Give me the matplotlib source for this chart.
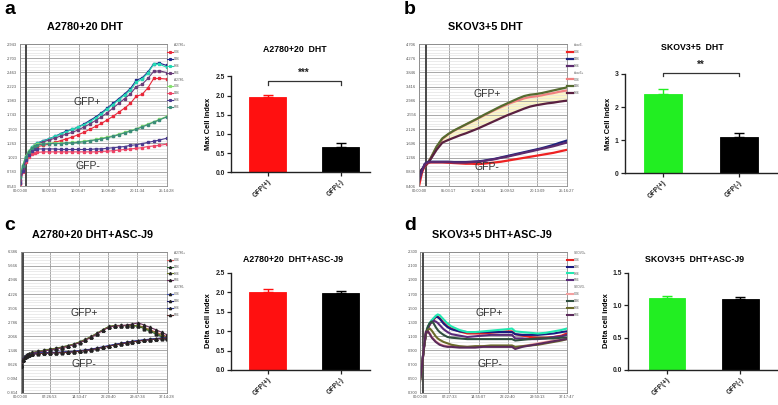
import numpy as np
import matplotlib
matplotlib.use('Agg')
import matplotlib.pyplot as plt
from matplotlib.lines import Line2D
from matplotlib.ticker import AutoMinorLocator

plt.rcParams['font.family'] = ['Liberation Sans', 'DejaVu Sans']

# ---------------- data ----------------
# panel a : A2780 + 20 DHT (cell index vs hours)
a_t = [0, 0.5, 1, 1.5, 2, 2.5, 3, 4, 5, 6, 7, 8, 9, 10, 11, 12, 13, 14, 15, 16,
       17, 18, 19, 20, 21, 22, 23, 24, 25.24]
a_plus = [
    [0.60, 0.80, 0.98, 1.08, 1.15, 1.19, 1.21, 1.23, 1.25, 1.28, 1.31, 1.34, 1.37, 1.41, 1.45, 1.50, 1.55, 1.60, 1.66, 1.72, 1.79, 1.86, 1.94, 2.06, 2.09, 2.20, 2.36, 2.36, 2.35],
    [0.65, 0.85, 1.02, 1.12, 1.19, 1.24, 1.27, 1.31, 1.34, 1.38, 1.43, 1.47, 1.50, 1.54, 1.59, 1.65, 1.71, 1.78, 1.86, 1.94, 2.02, 2.10, 2.19, 2.33, 2.37, 2.47, 2.61, 2.62, 2.58],
    [0.70, 0.88, 1.04, 1.13, 1.20, 1.24, 1.27, 1.30, 1.34, 1.38, 1.42, 1.46, 1.50, 1.54, 1.58, 1.63, 1.69, 1.76, 1.84, 1.92, 2.00, 2.08, 2.16, 2.30, 2.35, 2.45, 2.60, 2.60, 2.55],
    [0.62, 0.82, 1.00, 1.10, 1.17, 1.22, 1.25, 1.29, 1.32, 1.35, 1.39, 1.42, 1.45, 1.49, 1.54, 1.59, 1.65, 1.71, 1.78, 1.86, 1.94, 2.02, 2.10, 2.22, 2.26, 2.36, 2.48, 2.49, 2.46],
]
a_minus = [
    [0.72, 0.90, 1.05, 1.13, 1.19, 1.23, 1.25, 1.26, 1.27, 1.27, 1.27, 1.27, 1.28, 1.29, 1.30, 1.31, 1.33, 1.35, 1.37, 1.39, 1.42, 1.45, 1.48, 1.51, 1.55, 1.59, 1.63, 1.67, 1.72],
    [0.58, 0.78, 0.95, 1.03, 1.08, 1.10, 1.11, 1.12, 1.12, 1.12, 1.12, 1.12, 1.12, 1.12, 1.12, 1.12, 1.12, 1.13, 1.13, 1.14, 1.15, 1.16, 1.17, 1.18, 1.19, 1.21, 1.22, 1.23, 1.25],
    [0.60, 0.80, 0.98, 1.07, 1.13, 1.16, 1.17, 1.17, 1.17, 1.17, 1.16, 1.16, 1.16, 1.16, 1.16, 1.16, 1.17, 1.17, 1.18, 1.19, 1.20, 1.21, 1.23, 1.24, 1.26, 1.28, 1.30, 1.32, 1.35],
    [0.70, 0.88, 1.04, 1.12, 1.18, 1.22, 1.24, 1.25, 1.26, 1.26, 1.26, 1.27, 1.27, 1.28, 1.29, 1.31, 1.32, 1.34, 1.36, 1.38, 1.41, 1.44, 1.47, 1.50, 1.54, 1.58, 1.62, 1.66, 1.71],
]
a_yticks = ['0.543', '0.783', '1.023', '1.263', '1.503', '1.743', '1.983', '2.223', '2.463', '2.703', '2.943']
a_xticks = ['00:00:00', '05:02:53', '10:05:47', '15:08:40', '20:11:34', '25:14:28']

# panel b : SKOV3 + 5 DHT
b_t = [0, 0.5, 1, 1.5, 2, 3, 4, 5, 6, 7, 8, 9, 10, 11, 12, 13, 14, 15, 16, 17,
       18, 19, 20, 21, 22, 23, 24, 25.27]
b_minus = [
    [0.40, 0.80, 1.05, 1.10, 1.12, 1.12, 1.12, 1.11, 1.10, 1.09, 1.08, 1.08, 1.07, 1.08, 1.10, 1.12, 1.14, 1.17, 1.20, 1.23, 1.26, 1.29, 1.32, 1.35, 1.38, 1.41, 1.45, 1.50],
    [0.60, 0.88, 1.08, 1.13, 1.14, 1.14, 1.14, 1.14, 1.13, 1.13, 1.13, 1.14, 1.15, 1.17, 1.20, 1.23, 1.27, 1.31, 1.35, 1.39, 1.43, 1.47, 1.51, 1.55, 1.60, 1.65, 1.71, 1.78],
    [0.55, 0.86, 1.07, 1.12, 1.13, 1.13, 1.13, 1.13, 1.12, 1.12, 1.12, 1.13, 1.14, 1.16, 1.19, 1.22, 1.26, 1.29, 1.33, 1.37, 1.41, 1.45, 1.49, 1.53, 1.57, 1.61, 1.66, 1.72],
]
b_plus = [
    [0.70, 0.88, 0.99, 1.10, 1.25, 1.58, 1.83, 1.97, 2.08, 2.17, 2.26, 2.35, 2.44, 2.53, 2.62, 2.71, 2.79, 2.87, 2.94, 3.00, 3.06, 3.10, 3.12, 3.15, 3.19, 3.22, 3.26, 3.30],
    [0.75, 0.90, 1.00, 1.10, 1.25, 1.60, 1.85, 1.98, 2.09, 2.18, 2.27, 2.36, 2.45, 2.55, 2.64, 2.73, 2.82, 2.90, 2.98, 3.06, 3.13, 3.17, 3.19, 3.22, 3.26, 3.30, 3.34, 3.39],
    [0.80, 0.92, 1.00, 1.10, 1.22, 1.50, 1.72, 1.80, 1.87, 1.94, 2.00, 2.07, 2.14, 2.22, 2.30, 2.38, 2.46, 2.54, 2.61, 2.68, 2.75, 2.81, 2.85, 2.88, 2.91, 2.93, 2.96, 2.99],
]
b_yticks = ['0.406', '0.836', '1.266', '1.696', '2.126', '2.556', '2.986', '3.416', '3.846', '4.276', '4.706']
b_xticks = ['00:00:00', '05:03:17', '10:06:34', '15:09:52', '20:13:09', '25:16:27']

# panel c : A2780 + 20 DHT + ASC-J9
c_t = [0, 0.5, 1, 1.5, 2, 3, 4.5, 6, 7.5, 9, 10.5, 12, 13.5, 15, 16.5, 18, 19.5,
       21, 22.5, 24, 25.5, 27, 28.5, 30, 31.5, 33, 34.5, 36, 37.24]
c_plus = [
    [0.55, 0.85, 1.02, 1.10, 1.16, 1.22, 1.28, 1.33, 1.38, 1.43, 1.49, 1.56, 1.64, 1.75, 1.88, 2.03, 2.20, 2.38, 2.54, 2.60, 2.61, 2.61, 2.61, 2.62, 2.52, 2.40, 2.28, 2.16, 2.06],
    [0.58, 0.88, 1.04, 1.12, 1.18, 1.24, 1.30, 1.36, 1.41, 1.46, 1.52, 1.59, 1.67, 1.78, 1.91, 2.06, 2.23, 2.41, 2.57, 2.62, 2.62, 2.61, 2.60, 2.58, 2.46, 2.32, 2.18, 2.04, 1.95],
    [0.56, 0.86, 1.03, 1.11, 1.17, 1.23, 1.29, 1.35, 1.40, 1.45, 1.51, 1.58, 1.66, 1.77, 1.90, 2.05, 2.22, 2.40, 2.56, 2.61, 2.62, 2.62, 2.62, 2.61, 2.50, 2.37, 2.24, 2.10, 2.00],
    [0.54, 0.84, 1.01, 1.09, 1.15, 1.21, 1.27, 1.32, 1.37, 1.42, 1.48, 1.55, 1.63, 1.74, 1.87, 2.02, 2.19, 2.37, 2.53, 2.59, 2.61, 2.64, 2.69, 2.75, 2.64, 2.52, 2.40, 2.27, 2.15],
]
c_minus = [
    [0.60, 0.88, 1.02, 1.09, 1.13, 1.17, 1.20, 1.22, 1.23, 1.24, 1.25, 1.27, 1.29, 1.32, 1.36, 1.40, 1.46, 1.52, 1.58, 1.64, 1.70, 1.75, 1.80, 1.84, 1.88, 1.91, 1.94, 1.97, 1.99],
    [0.58, 0.86, 1.01, 1.08, 1.12, 1.16, 1.19, 1.21, 1.22, 1.23, 1.24, 1.26, 1.28, 1.31, 1.35, 1.39, 1.45, 1.51, 1.57, 1.63, 1.69, 1.74, 1.79, 1.83, 1.87, 1.90, 1.93, 1.96, 1.98],
    [0.62, 0.89, 1.03, 1.10, 1.14, 1.18, 1.21, 1.23, 1.24, 1.25, 1.26, 1.28, 1.30, 1.33, 1.37, 1.41, 1.47, 1.53, 1.59, 1.65, 1.71, 1.76, 1.81, 1.85, 1.89, 1.92, 1.95, 1.98, 2.00],
    [0.57, 0.85, 1.00, 1.07, 1.11, 1.15, 1.18, 1.20, 1.21, 1.22, 1.23, 1.25, 1.27, 1.30, 1.34, 1.38, 1.44, 1.50, 1.56, 1.62, 1.68, 1.73, 1.78, 1.82, 1.86, 1.89, 1.92, 1.95, 1.97],
]
c_yticks = ['-0.814', '-0.094', '0.626', '1.346', '2.066', '2.786', '3.506', '4.226', '4.946', '5.666', '6.386']
c_xticks = ['00:00:00', '07:26:53', '14:53:47', '22:20:40', '29:47:34', '37:14:28']

# panel d : SKOV3 + 5 DHT + ASC-J9
d_t = [0, 0.5, 1, 1.5, 2, 2.5, 3, 3.5, 4, 4.5, 5, 6, 7, 8, 10, 12, 14, 16, 18, 20,
       22, 23.4, 24.2, 26, 28, 30, 32, 34, 36, 37.3]
d_plus = [
    [0.50, 0.68, 0.93, 1.13, 1.21, 1.27, 1.31, 1.34, 1.37, 1.38, 1.36, 1.29, 1.24, 1.21, 1.17, 1.14, 1.14, 1.14, 1.15, 1.16, 1.17, 1.17, 1.13, 1.11, 1.09, 1.08, 1.08, 1.09, 1.11, 1.14],
    [0.52, 0.70, 0.94, 1.14, 1.22, 1.28, 1.32, 1.35, 1.38, 1.37, 1.35, 1.28, 1.23, 1.20, 1.17, 1.16, 1.16, 1.16, 1.16, 1.16, 1.16, 1.16, 1.13, 1.12, 1.12, 1.12, 1.13, 1.14, 1.16, 1.17],
    [0.53, 0.70, 0.95, 1.15, 1.23, 1.29, 1.33, 1.36, 1.39, 1.41, 1.40, 1.34, 1.28, 1.24, 1.19, 1.16, 1.16, 1.17, 1.18, 1.19, 1.20, 1.21, 1.17, 1.16, 1.15, 1.14, 1.15, 1.17, 1.19, 1.21],
    [0.50, 0.68, 0.93, 1.13, 1.21, 1.27, 1.30, 1.32, 1.31, 1.29, 1.26, 1.20, 1.16, 1.13, 1.11, 1.09, 1.10, 1.11, 1.12, 1.12, 1.12, 1.12, 1.07, 1.07, 1.06, 1.06, 1.07, 1.09, 1.10, 1.12],
]
d_minus = [
    [0.50, 0.70, 0.96, 1.17, 1.18, 1.14, 1.09, 1.06, 1.03, 1.01, 0.99, 0.97, 0.96, 0.96, 0.95, 0.95, 0.95, 0.96, 0.96, 0.96, 0.96, 0.96, 0.94, 0.96, 0.98, 1.00, 1.02, 1.04, 1.05, 1.07],
    [0.48, 0.68, 0.95, 1.15, 1.24, 1.29, 1.31, 1.28, 1.23, 1.19, 1.16, 1.12, 1.09, 1.08, 1.07, 1.06, 1.06, 1.06, 1.06, 1.06, 1.06, 1.06, 1.04, 1.05, 1.06, 1.07, 1.07, 1.07, 1.08, 1.08],
    [0.45, 0.66, 0.93, 1.13, 1.19, 1.21, 1.18, 1.14, 1.10, 1.07, 1.05, 1.02, 1.00, 0.98, 0.96, 0.95, 0.96, 0.96, 0.97, 0.97, 0.97, 0.97, 0.95, 0.96, 0.97, 0.98, 1.00, 1.02, 1.04, 1.06],
    [0.47, 0.68, 0.95, 1.16, 1.17, 1.13, 1.08, 1.05, 1.02, 1.00, 0.98, 0.96, 0.95, 0.95, 0.94, 0.94, 0.94, 0.95, 0.95, 0.95, 0.95, 0.95, 0.92, 0.95, 0.97, 0.99, 1.01, 1.03, 1.05, 1.06],
]
d_yticks = ['0.300', '0.500', '0.700', '0.900', '1.100', '1.300', '1.500', '1.700', '1.900', '2.100', '2.300']
d_xticks = ['00:00:00', '07:27:33', '14:55:07', '22:22:40', '29:50:13', '37:17:47']

# bar charts
groups = ['GFP(+)', 'GFP(-)']
a_bar = [1.95, 0.65]
a_err = [0.07, 0.12]
b_bar = [2.40, 1.10]
b_err = [0.15, 0.13]
c_bar = [2.01, 1.99]
c_err = [0.07, 0.05]
d_bar = [1.11, 1.10]
d_err = [0.03, 0.03]

wells = ['C06', 'D06', 'E06', 'F06']

# ---------------- drawing ----------------
W, H = 778, 405
fig = plt.figure(figsize=(W / 100, H / 100), dpi=100)


def box(x0, y0, x1, y1):
    return [x0 / W, 1 - y1 / H, (x1 - x0) / W, (y1 - y0) / H]


def hours(s):
    h, m, sec = s.split(':')
    return int(h) + int(m) / 60 + int(sec) / 3600


def rtca(rect, t, plus, minus, cp, cm, names, yt, xt, event, gp, gm,
         lw, mk, ms, first='plus', fill=None, edge=None):
    ax = fig.add_axes(rect)
    yv = [float(s) for s in yt]
    xv = [hours(s) for s in xt]
    ax.set_ylim(yv[0], yv[-1])
    ax.set_xlim(0, xv[-1])
    ax.set_yticks(yv)
    ax.set_yticklabels(yt)
    ax.set_xticks(xv)
    ax.set_xticklabels(xt)
    ax.yaxis.set_minor_locator(AutoMinorLocator(5))
    ax.grid(which='major', color='#9a9a9a', lw=0.6)
    ax.grid(which='minor', axis='y', color='#dcdcdc', lw=0.4)
    ax.tick_params(which='both', length=0, labelsize=2.9, colors='#555555', pad=2)
    for s in ax.spines.values():
        s.set_color('#8a8a8a')
        s.set_linewidth(0.6)
    ax.axvline(event, color='#3a3a3a', lw=1.3)
    if fill is not None:
        ax.fill_between(t, fill[0], fill[1], color='#fbf5c8', lw=0)
    lp, lm = [], []
    for y, c in zip(plus, cp):
        lp += ax.plot(t, y, color=c, lw=lw, marker=mk, ms=ms, mec=edge or c)
    for y, c in zip(minus, cm):
        lm += ax.plot(t, y, color=c, lw=lw, marker=mk, ms=ms, mec=edge or c)
    for l, n in zip(lp + lm, wells[:len(plus)] + wells[:len(minus)]):
        l.set_label(n)
    blank = lambda s: Line2D([], [], ls='none', label=s)
    if first == 'plus':
        handles = [blank(names[0])] + lp + [blank(names[1])] + lm
    else:
        handles = [blank(names[1])] + lm + [blank(names[0])] + lp
    leg = ax.legend(handles=handles, loc='upper left', bbox_to_anchor=(1.0, 1.01),
                    frameon=False, fontsize=2.3, handlelength=1.8, handletextpad=0.3,
                    labelspacing=0.9, borderaxespad=0.2, borderpad=0, markerscale=0.8)
    for tx in leg.get_texts():
        tx.set_color('#555555')
    ax.text(gp[0], gp[1], 'GFP+', transform=ax.transAxes, fontsize=7.5,
            color='#333333', ha='center', va='center')
    ax.text(gm[0], gm[1], 'GFP-', transform=ax.transAxes, fontsize=7.5,
            color='#333333', ha='center', va='center')
    return ax


def bars(rect, means, errs, cols, ymax, yt, fmt, xlim, sig=None):
    ax = fig.add_axes(rect)
    x = np.arange(len(means))
    ax.bar(x, means, width=0.5, color=cols, edgecolor=cols, lw=0.6)
    for xi, m, e, c in zip(x, means, errs, cols):
        ax.errorbar(xi, m, yerr=[[0], [e]], color=c, capsize=3.5,
                    elinewidth=1.0, capthick=1.0)
    ax.set_ylim(0, ymax)
    ax.set_xlim(*xlim)
    ax.set_yticks(yt)
    ax.set_yticklabels([fmt.format(v) for v in yt], fontweight='bold')
    ax.set_xticks(x)
    ax.set_xticklabels(groups, rotation=45, ha='right', rotation_mode='anchor',
                       fontweight='bold')
    for s in ['top', 'right']:
        ax.spines[s].set_visible(False)
    for s in ['left', 'bottom']:
        ax.spines[s].set_linewidth(1.0)
        ax.spines[s].set_color('#222222')
    ax.tick_params(direction='out', length=3, width=0.9, labelsize=4.9, pad=1.5,
                   colors='#222222')
    if sig is not None:
        y1, y2, ys, txt = sig
        ax.plot([0, 0, 1, 1], [y1, y2, y2, y1], color='#333333', lw=0.9, clip_on=False)
        ax.text(0.5, ys, txt, ha='center', va='center', fontsize=7,
                fontweight='bold', color='#222222', clip_on=False)
    return ax


def ftext(x, y, s, **kw):
    fig.text(x / W, 1 - y / H, s, ha='center', va='center', **kw)


# panel a
rtca(box(20, 44, 166.7, 186), a_t, a_plus, a_minus,
     ['#e8283a', '#1f2a8a', '#22d8b4', '#6a3d7a'],
     ['#86e070', '#ee4466', '#4b3b8f', '#3c8c7a'],
     ['A2780+', 'A2780-'], a_yticks, a_xticks, 0.97,
     (0.46, 0.59), (0.46, 0.14), 0.8, 's', 1.6)
bars(box(231, 76.3, 370, 172.3), a_bar, a_err, ['#ff1010', '#000000'],
     2.5, [0, 0.5, 1.0, 1.5, 2.0, 2.5], '{:.1f}', (-0.5, 1.4),
     sig=(2.27, 2.38, 2.59, '***'))

# panel b
rtca(box(419, 44, 566.7, 186), b_t, b_plus, b_minus,
     ['#f08080', '#556b2f', '#5a2040'],
     ['#ee2222', '#1a237e', '#5b2a6e'],
     ['skov3+', 'skov3-'], b_yticks, b_xticks, 1.14,
     (0.46, 0.646), (0.46, 0.136), 1.6, None, 0, first='minus',
     fill=(b_plus[0], b_plus[2]))
bars(box(625, 74, 777, 173.3), b_bar, b_err, ['#22ee22', '#000000'],
     3, [0, 1, 2, 3], '{:.0f}', (-0.5, 1.5),
     sig=(2.94, 3.04, 3.27, '**'))

# panel c
rtca(box(20.7, 251.7, 166.7, 392.7), c_t, c_plus, c_minus,
     ['#e06060', '#2e6b32', '#6b7a22', '#6b2f5b'],
     ['#3f51b5', '#1a1a6e', '#283593', '#5d2a2a'],
     ['A2780+', 'A2780-'], c_yticks, c_xticks, 0.7,
     (0.435, 0.563), (0.435, 0.204), 0.8, '^', 2.0, edge='#222222')
bars(box(231, 272.7, 370, 370), c_bar, c_err, ['#ff1010', '#000000'],
     2.5, [0, 0.5, 1.0, 1.5, 2.0, 2.5], '{:.1f}', (-0.5, 1.4))

# panel d
rtca(box(420, 251.7, 566.7, 392.7), d_t, d_plus, d_minus,
     ['#e82020', '#1a1a80', '#20e8b0', '#5a2a7a'],
     ['#f4a0a0', '#2f4f3f', '#6b6b2a', '#5b2a5b'],
     ['SKOV3+', 'SKOV3-'], d_yticks, d_xticks, 0.85,
     (0.474, 0.563), (0.474, 0.204), 1.5, None, 0)
bars(box(628.3, 272.7, 777, 370), d_bar, d_err, ['#22ee22', '#000000'],
     1.5, [0, 0.5, 1.0, 1.5], '{:.1f}', (-0.53, 1.5))

# titles, panel letters, y labels
for s, x, y in [('a', 10, 10), ('b', 410, 10), ('c', 10, 225), ('d', 410, 225)]:
    ftext(x, y, s, fontsize=14, fontweight='bold')
for s, x, y in [('A2780+20 DHT', 85, 27), ('SKOV3+5 DHT', 485, 27),
                ('A2780+20 DHT+ASC-J9', 93, 235), ('SKOV3+5 DHT+ASC-J9', 492, 235)]:
    ftext(x, y, s, fontsize=7.8, fontweight='bold')
for s, x, y in [('A2780+20  DHT', 295, 49), ('SKOV3+5  DHT', 692, 47),
                ('A2780+20  DHT+ASC-J9', 293, 260), ('SKOV3+5  DHT+ASC-J9', 695, 260)]:
    ftext(x, y, s, fontsize=6.3, fontweight='bold')
for s, x, y in [('Max Cell Index', 209, 124), ('Max Cell Index', 609, 124),
                ('Delta cell index', 209, 321), ('Delta cell index', 607, 321)]:
    ftext(x, y, s, fontsize=5.4, fontweight='bold', rotation=90)

fig.savefig('out.png', dpi=100)
